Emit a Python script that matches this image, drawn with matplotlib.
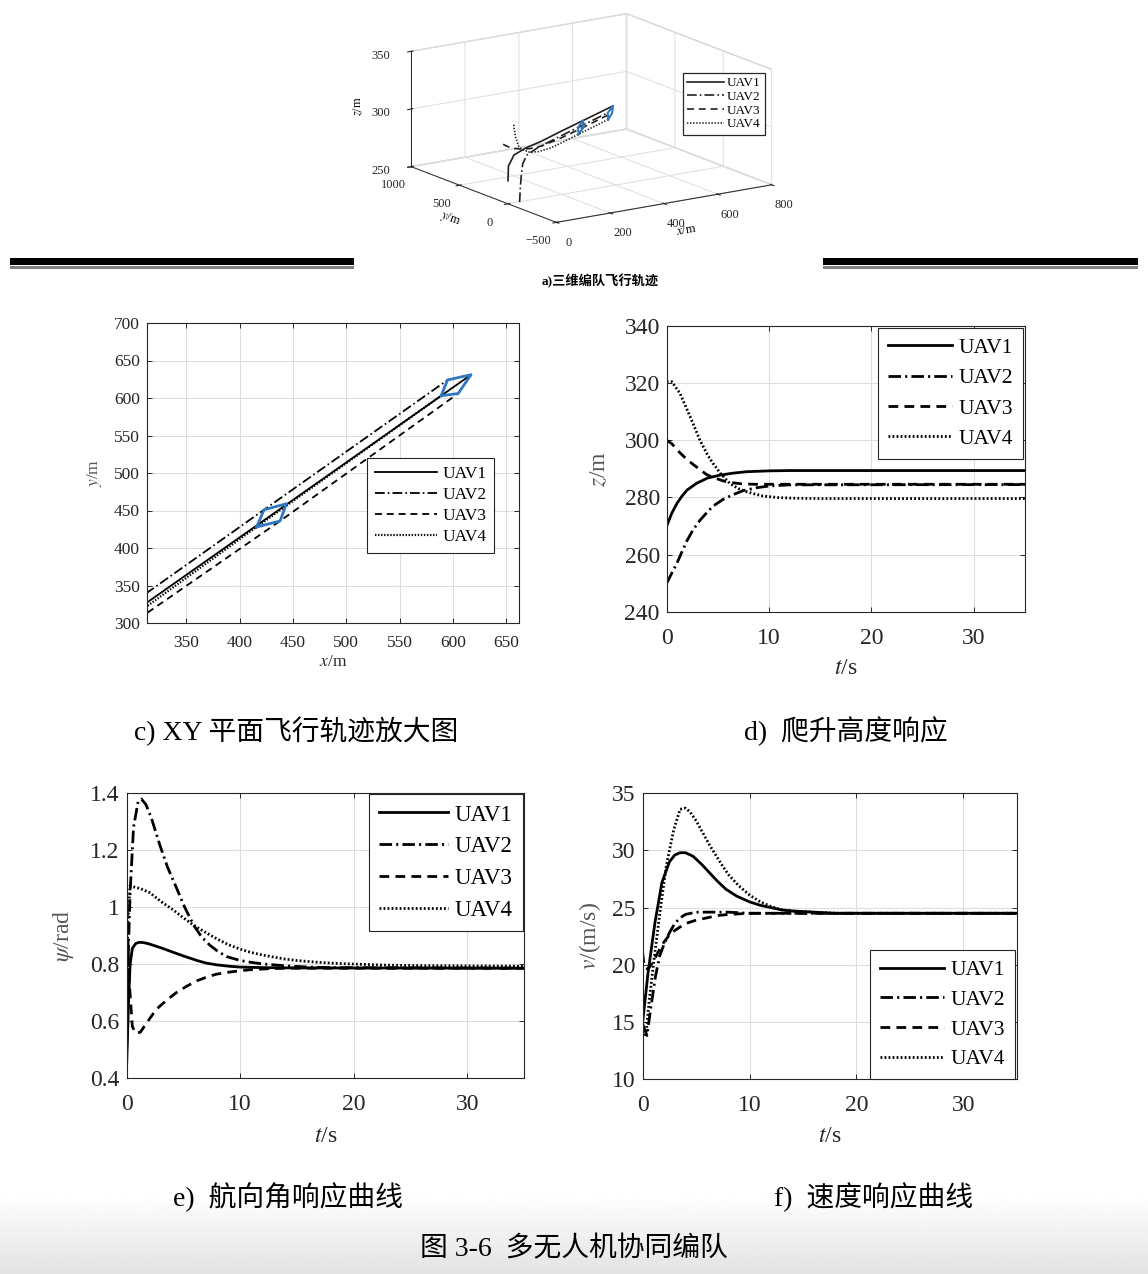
import numpy as np
import matplotlib
matplotlib.use('Agg')
import matplotlib.pyplot as plt
from matplotlib.patches import Rectangle

plt.rcParams['font.family'] = ['Liberation Serif', 'Noto Sans CJK SC']
plt.rcParams['mathtext.fontset'] = 'stix'
plt.rcParams['lines.scale_dashes'] = False
plt.rcParams['grid.color'] = '#dedede'
plt.rcParams['grid.linewidth'] = 0.7

W, H = 1148, 1274
def fx(px):
    return px / W
def fy(py):
    return 1 - py / H
def rect(l, t, r, b):
    return [fx(l), fy(b), (r - l) / W, (b - t) / H]

names = ['UAV1', 'UAV2', 'UAV3', 'UAV4']

# ---- 3D trajectories (x, y, z) ----
u1_x = [0, 22, 60, 120, 200, 313, 444, 617]
u1_y = [0, 57, 105, 150, 213, 327, 458, 631]
u1_z = [270, 280, 286.5, 288.7, 289.2, 289.4, 289.4, 289.4]
u2_x = [41, 60, 80, 105, 135, 190, 313, 423, 595]
u2_y = [-6, 40, 86, 140, 180, 225, 340, 451, 624]
u2_z = [250, 260, 268, 276, 281, 283.5, 284.5, 284.5, 284.5]
u3_x = [0, 20, 50, 90, 140, 200, 313, 438, 605]
u3_y = [50, 70, 95, 120, 160, 205, 313, 436, 606]
u3_z = [300, 297, 293, 290, 287, 285.5, 284.6, 284.6, 284.6]
u4_x = [0, 15, 35, 60, 90, 130, 180, 250, 313, 416, 589]
u4_y = [-60, -20, 20, 60, 100, 140, 185, 255, 322, 428, 603]
u4_z = [320.5, 316, 306, 296, 290, 285, 282, 280, 279.6, 279.6, 279.6]

# formation shapes (UAV4, UAV2, UAV1, UAV3)
form_mid_x = [416, 423, 444, 438, 416]
form_mid_y = [428, 451, 459, 436, 428]
form_end_x = [589, 595, 617, 605, 589]
form_end_y = [603, 624, 631, 606, 603]
form_z = [279.6, 284.5, 289.4, 284.6, 279.6]

# ---- altitude z(t) ----
z1_t = [0, 0.5, 1.0, 1.5, 2.0, 2.9, 4.0, 5.2, 6.5, 7.8, 10, 12, 35]
z1_v = [270, 274.5, 277.9, 280.5, 282.6, 284.9, 286.8, 287.8, 288.5, 289.0, 289.3, 289.4, 289.4]
z2_t = [0, 0.5, 1, 1.5, 2, 2.6, 3.25, 4.0, 4.55, 5.5, 6.5, 7.5, 8.8, 10, 12, 35]
z2_v = [250, 253.5, 257, 261, 265, 268.8, 272, 275, 277, 279.3, 281, 282.4, 283.4, 284, 284.4, 284.5]
z3_t = [0, 0.5, 1.3, 2.0, 2.6, 3.3, 3.9, 4.7, 5.5, 6.3, 7.2, 8.5, 10, 35]
z3_v = [300, 298.8, 295.6, 293.2, 291.5, 289.6, 288.0, 286.8, 285.8, 285.2, 284.8, 284.6, 284.6, 284.6]
z4_t = [0, 0.5, 1.3, 2.3, 3.25, 4.0, 4.55, 5.3, 6.2, 7.0, 7.8, 8.6, 9.4, 11, 12.7, 15, 35]
z4_v = [320.5, 320.5, 316.4, 308.2, 300, 294.8, 291.8, 288.2, 284.8, 283.1, 282, 281.2, 280.5, 279.9, 279.7, 279.6, 279.6]

# ---- heading psi(t) ----
p1_t = [0, 0.15, 0.3, 0.5, 0.8, 1.1, 1.5, 2.0, 3.0, 4.1, 5.0, 6.2, 7.0, 7.9, 9.0, 10, 12, 15, 35]
p1_v = [0.45, 0.65, 0.80, 0.855, 0.872, 0.876, 0.875, 0.870, 0.857, 0.841, 0.828, 0.812, 0.803, 0.797, 0.792, 0.789, 0.787, 0.786, 0.785]
p2_t = [0, 0.15, 0.3, 0.6, 1.0, 1.3, 1.7, 2.2, 2.9, 3.6, 4.4, 5.1, 5.9, 6.6, 7.35, 8.0, 8.8, 10, 10.9, 12, 13.8, 16, 18, 35]
p2_v = [0.50, 0.85, 1.05, 1.28, 1.37, 1.38, 1.36, 1.31, 1.22, 1.14, 1.066, 1.0, 0.936, 0.895, 0.865, 0.845, 0.826, 0.812, 0.806, 0.80, 0.794, 0.789, 0.787, 0.785]
p3_t = [0, 0.2, 0.5, 0.8, 1.2, 1.8, 2.6, 3.5, 4.4, 5.3, 6.2, 7.0, 7.9, 9.0, 10, 11, 12.4, 14, 16, 35]
p3_v = [1.05, 0.75, 0.58, 0.556, 0.56, 0.595, 0.64, 0.672, 0.70, 0.722, 0.741, 0.753, 0.764, 0.771, 0.776, 0.780, 0.783, 0.785, 0.785, 0.785]
p4_t = [0, 0.1, 0.3, 0.7, 1.2, 2.06, 3.0, 4.1, 5.0, 5.9, 6.9, 7.9, 9.0, 10, 10.9, 12, 13.8, 15, 16.8, 18, 19.7, 22.6, 26, 30, 35]
p4_v = [0.62, 0.95, 1.075, 1.07, 1.065, 1.05, 1.02, 0.99, 0.962, 0.936, 0.912, 0.889, 0.867, 0.852, 0.841, 0.831, 0.818, 0.812, 0.806, 0.803, 0.80, 0.796, 0.794, 0.793, 0.792]

# ---- speed v(t) ----
v1_t = [0, 0.5, 1.15, 1.8, 2.5, 3.0, 3.5, 4.0, 4.7, 5.5, 6.3, 7.0, 7.8, 8.8, 10, 11, 12, 13, 14, 16, 18, 20, 35]
v1_v = [15.0, 19.3, 23.7, 27.2, 29.0, 29.6, 29.8, 29.8, 29.5, 28.8, 28.0, 27.3, 26.6, 26.0, 25.5, 25.2, 25.0, 24.8, 24.7, 24.6, 24.5, 24.5, 24.5]
v2_t = [0, 0.4, 0.8, 1.2, 1.6, 2.0, 2.5, 3.0, 3.5, 4.0, 5.0, 6.0, 8.0, 10, 35]
v2_v = [14.8, 13.8, 16.5, 19.0, 20.8, 21.8, 22.8, 23.6, 24.1, 24.4, 24.6, 24.6, 24.6, 24.5, 24.5]
v3_t = [0, 0.15, 0.5, 1.0, 1.5, 2.0, 2.5, 3.0, 3.5, 4.0, 5.0, 6.0, 7.0, 8.0, 10, 12, 35]
v3_v = [21.0, 19.8, 19.6, 20.3, 21.2, 22.0, 22.6, 23.0, 23.3, 23.6, 23.9, 24.1, 24.3, 24.4, 24.5, 24.5, 24.5]
v4_t = [0, 0.3, 0.6, 1.0, 1.6, 2.2, 2.9, 3.5, 4.0, 4.4, 5.0, 5.65, 6.3, 6.9, 7.5, 8.1, 9.0, 10, 11, 12, 13, 14, 16, 18, 35]
v4_v = [15.0, 13.7, 16.8, 20.0, 24.5, 28.6, 31.8, 33.6, 33.7, 33.4, 32.6, 31.5, 30.4, 29.5, 28.6, 27.8, 26.9, 26.1, 25.5, 25.1, 24.8, 24.7, 24.6, 24.5, 24.5]

# line styles
big_ls = ['-', (0, (9, 3, 1.5, 3)), (0, (7, 4.5)), (0, (1.3, 1.6))]
small_ls = ['-', (0, (7, 2.2, 1.2, 2.2)), (0, (5, 3.5)), (0, (1.0, 1.2))]
ink = '#262626'
blue = '#2f78c0'
cap_fs = 20

fig = plt.figure(figsize=(W / 100, H / 100), dpi=100)

# page gradient at bottom
bg = fig.add_axes([0, 0, 1, 1], zorder=-5)
grad = np.linspace(0, 1, 100)[:, None]
bg.imshow(1 - 0.11 * grad, cmap='gray', vmin=0, vmax=1, aspect='auto',
          extent=[0, 1, fy(1274), fy(1195)])
bg.set_xlim(0, 1)
bg.set_ylim(0, 1)
bg.axis('off')

# separator bars
for l, r in [(10, 354), (823, 1138)]:
    fig.patches.append(Rectangle((fx(l), fy(265)), (r - l) / W, 7 / H, transform=fig.transFigure,
                                 facecolor='black', edgecolor='none'))
    fig.patches.append(Rectangle((fx(l), fy(268.5)), (r - l) / W, 2.5 / H, transform=fig.transFigure,
                                 facecolor='#808080', edgecolor='none'))


def style2d(ax, fs, xpad):
    ax.grid(True, color='#dedede', lw=0.8)
    ax.set_axisbelow(True)
    ax.tick_params(direction='in', length=3.5, width=0.7, top=True, right=True,
                   labelsize=fs, colors=ink, pad=5)
    ax.tick_params(axis='x', pad=xpad)
    for s in ax.spines.values():
        s.set_linewidth(0.8)
        s.set_color(ink)


def legend(ax, fs, loc, anchor, hl, sp):
    lg = ax.legend(loc=loc, bbox_to_anchor=anchor, fontsize=fs, handlelength=hl,
                   handletextpad=0.3, labelspacing=sp, borderpad=0.45, borderaxespad=0,
                   fancybox=False, framealpha=1, edgecolor=ink)
    lg.get_frame().set_linewidth(0.8)
    return lg


# ---- a) 3D trajectories ----
ax3 = fig.add_axes(rect(358, -6, 818, 249), projection='3d')
ax3.set_proj_type('ortho')
ax3.view_init(elev=15, azim=-124)
ax3.set_box_aspect((1, 1, 0.46), zoom=1.47)
trajs = [(u1_x, u1_y, u1_z), (u2_x, u2_y, u2_z), (u3_x, u3_y, u3_z), (u4_x, u4_y, u4_z)]
for (xs, ys, zs), ls, nm in zip(trajs, small_ls, names):
    ax3.plot(xs, ys, zs, color='#202020', ls=ls, lw=1.2, label=nm)
for fxs, fys in [(form_mid_x, form_mid_y), (form_end_x, form_end_y)]:
    ax3.plot(fxs, fys, form_z, color=blue, lw=1.5)
ax3.set_xlim(0, 800)
ax3.set_ylim(-500, 1000)
ax3.set_zlim(250, 350)
ax3.set_xticks([0, 200, 400, 600, 800])
ax3.set_yticks([-500, 0, 500, 1000])
ax3.set_zticks([250, 300, 350])
ax3.tick_params(labelsize=9, pad=0, colors=ink)
for a in (ax3.xaxis, ax3.yaxis, ax3.zaxis):
    a.set_pane_color((1, 1, 1, 1))
    a.pane.set_edgecolor('#d0d0d0')
    a.line.set_color(ink)
    a.line.set_linewidth(0.7)
ax3.set_xlabel(r'$x$/m', fontsize=9, labelpad=-6)
ax3.set_ylabel(r'$y$/m', fontsize=9, labelpad=-6)
ax3.set_zlabel(r'$z$/m', fontsize=9, labelpad=-7)
lg3 = ax3.legend(loc='upper right', bbox_to_anchor=(fx(772), fy(66)), bbox_transform=fig.transFigure,
                 fontsize=9.5, handlelength=2.8, handletextpad=0.2, labelspacing=0.1, borderpad=0.35,
                 fancybox=False, framealpha=1, edgecolor=ink)
lg3.get_frame().set_linewidth(0.9)
fig.text(fx(600), fy(281), 'a)三维编队飞行轨迹', ha='center', va='center', fontsize=9.5, fontweight='bold')

# ---- c) XY plane ----
axc = fig.add_axes(rect(146.7, 323, 519, 623))
xy = [(u1_x, u1_y), (u2_x, u2_y), (u3_x, u3_y), (u4_x, u4_y)]
for (xs, ys), ls, nm in zip(xy, small_ls, names):
    axc.plot(xs, ys, color='black', ls=ls, lw=1.3 if ls != small_ls[3] else 1.6, label=nm)
for fxs, fys in [(form_mid_x, form_mid_y), (form_end_x, form_end_y)]:
    axc.plot(fxs, fys, color=blue, lw=2.0)
axc.set_xlim(313, 662)
axc.set_ylim(300, 700)
axc.set_xticks(np.arange(350, 651, 50))
axc.set_yticks(np.arange(300, 701, 50))
style2d(axc, 12.5, 8.5)
axc.set_xlabel(r'$x$/m', fontsize=12.5, color=ink)
axc.set_ylabel(r'$y$/m', fontsize=12.5, color='#555555')
axc.xaxis.set_label_coords(0.5, -0.13)
axc.yaxis.set_label_coords(-0.139, 0.5)
legend(axc, 12.5, 'upper right', (0.934, 0.551), 3.6, 0.28)
fig.text(fx(296), fy(731), 'c) XY 平面飞行轨迹放大图', ha='center', va='center', fontsize=cap_fs)

# ---- d) altitude ----
axd = fig.add_axes(rect(666.7, 326, 1025, 611.7))
for (ts, vs), ls, nm in zip([(z1_t, z1_v), (z2_t, z2_v), (z3_t, z3_v), (z4_t, z4_v)], big_ls, names):
    axd.plot(ts, vs, color='black', ls=ls, lw=2.0, label=nm)
axd.set_xlim(0, 35)
axd.set_ylim(240, 340)
axd.set_xticks([0, 10, 20, 30])
axd.set_yticks(np.arange(240, 341, 20))
style2d(axd, 17, 11.5)
axd.set_xlabel(r'$t$/s', fontsize=17, color=ink)
axd.set_ylabel(r'$z$/m', fontsize=17, color='#555555')
axd.xaxis.set_label_coords(0.5, -0.2)
axd.yaxis.set_label_coords(-0.186, 0.5)
legend(axd, 15.5, 'upper right', (0.994, 0.993), 3.0, 0.48)
fig.text(fx(846), fy(731), 'd)  爬升高度响应', ha='center', va='center', fontsize=cap_fs)

# ---- e) heading ----
axe = fig.add_axes(rect(126.7, 793.3, 524, 1077.7))
for (ts, vs), ls, nm in zip([(p1_t, p1_v), (p2_t, p2_v), (p3_t, p3_v), (p4_t, p4_v)], big_ls, names):
    axe.plot(ts, vs, color='black', ls=ls, lw=2.0, label=nm)
axe.set_xlim(0, 35)
axe.set_ylim(0.4, 1.4)
axe.set_xticks([0, 10, 20, 30])
axe.set_yticks([0.4, 0.6, 0.8, 1.0, 1.2, 1.4])
axe.set_yticklabels(['0.4', '0.6', '0.8', '1', '1.2', '1.4'])
style2d(axe, 17, 11.5)
axe.set_xlabel(r'$t$/s', fontsize=17, color=ink)
axe.set_ylabel(r'$\psi$/rad', fontsize=17, color='#555555')
axe.xaxis.set_label_coords(0.5, -0.208)
axe.yaxis.set_label_coords(-0.16, 0.5)
legend(axe, 16.5, 'upper right', (0.998, 0.997), 3.0, 0.47)
fig.text(fx(288), fy(1197), 'e)  航向角响应曲线', ha='center', va='center', fontsize=cap_fs)

# ---- f) speed ----
axf = fig.add_axes(rect(642.7, 793.3, 1016.7, 1079))
for (ts, vs), ls, nm in zip([(v1_t, v1_v), (v2_t, v2_v), (v3_t, v3_v), (v4_t, v4_v)], big_ls, names):
    axf.plot(ts, vs, color='black', ls=ls, lw=2.0, label=nm)
axf.set_xlim(0, 35)
axf.set_ylim(10, 35)
axf.set_xticks([0, 10, 20, 30])
axf.set_yticks(np.arange(10, 36, 5))
style2d(axf, 17, 11.5)
axf.set_xlabel(r'$t$/s', fontsize=17, color=ink)
axf.set_ylabel(r'$v$/(m/s)', fontsize=17, color='#555555')
axf.xaxis.set_label_coords(0.5, -0.203)
axf.yaxis.set_label_coords(-0.141, 0.5)
legend(axf, 15.5, 'lower right', (0.995, 0.0), 3.0, 0.45)
fig.text(fx(873), fy(1197), 'f)  速度响应曲线', ha='center', va='center', fontsize=cap_fs)

for a in (axc, axd, axe, axf):
    a.xaxis.label.set_va('center')
    a.yaxis.label.set_va('center')

fig.text(fx(574), fy(1249), '图 3-6  多无人机协同编队', ha='center', va='center', fontsize=cap_fs)

fig.savefig('out.png', dpi=100)
